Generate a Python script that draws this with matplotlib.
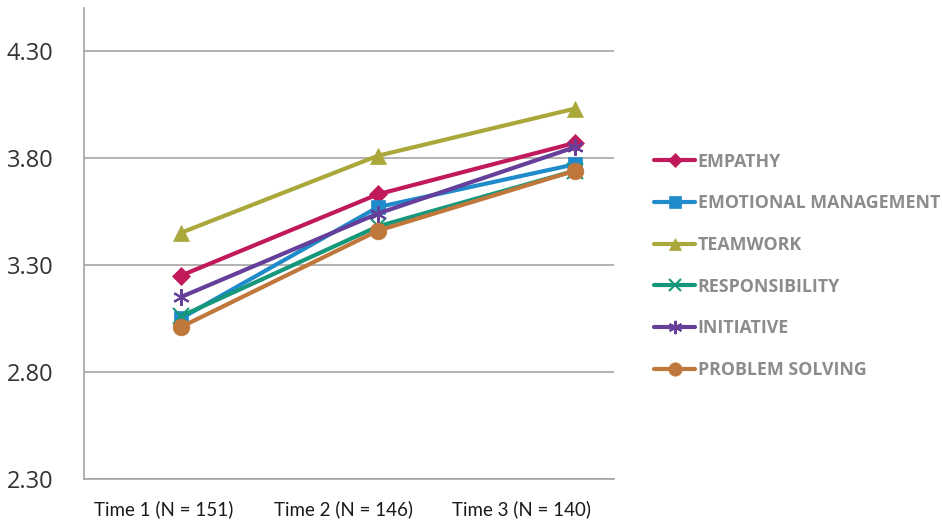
import matplotlib.pyplot as plt
import numpy as np

times = ['Time 1 (N = 151)', 'Time 2 (N = 146)', 'Time 3 (N = 140)']

empathy = [3.25, 3.63, 3.87]
emotional = [3.05, 3.57, 3.77]
teamwork = [3.45, 3.81, 4.03]
responsibility = [3.06, 3.48, 3.74]
initiative = [3.15, 3.54, 3.85]
problem_solving = [3.01, 3.46, 3.74]

names = ['EMPATHY', 'EMOTIONAL MANAGEMENT', 'TEAMWORK',
         'RESPONSIBILITY', 'INITIATIVE', 'PROBLEM SOLVING']
series = [empathy, emotional, teamwork, responsibility, initiative, problem_solving]
colors = ['#c01a5b', '#1f8bca', '#aaa83a', '#14977a', '#653f9a', '#c0773b']
markers = ['D', 's', '^', 'x', (6, 2, 0), 'o']
msizes = [9, 10, 11, 11, 12, 12]

fig = plt.figure(figsize=(9.42, 5.20), dpi=100)
ax = fig.add_axes([84 / 942, 1 - 479 / 520, 530 / 942, 471 / 520])

x = np.arange(len(times))
for vals, name, c, m, ms in zip(series, names, colors, markers, msizes):
    ax.plot(x, vals, color=c, linewidth=3, marker=m, markersize=ms,
            markeredgewidth=1.5 if m in ('x', (6, 2, 0)) else 0.5,
            markeredgecolor=c, label=name, solid_capstyle='round')

ax.set_ylim(2.3, 4.5)
ax.set_xlim(-0.492, 2.198)
ax.set_yticks([2.3, 2.8, 3.3, 3.8, 4.3])
ax.set_yticklabels(['2.30', '2.80', '3.30', '3.80', '4.30'],
                   fontfamily='Open Sans', fontsize=17, color='#333333')
# category labels sit a little left of the data points in the original
ax.set_xticks([-0.086, 0.827, 1.731])
ax.set_xticklabels(times, fontfamily='Lato', fontsize=13.5, color='#1a1a1a')
ax.tick_params(axis='y', length=0, pad=22)
ax.tick_params(axis='x', length=0, pad=15)
ax.yaxis.grid(True, color='#a6a6a6', linewidth=1.2)
ax.set_axisbelow(True)
for s in ['top', 'right']:
    ax.spines[s].set_visible(False)
for s in ['left', 'bottom']:
    ax.spines[s].set_color('#a6a6a6')
    ax.spines[s].set_linewidth(1.2)

leg = fig.legend(loc='center left', bbox_to_anchor=(0.685, 0.489), frameon=False,
                 prop={'family': 'Open Sans', 'weight': 'bold', 'size': 12.8},
                 handlelength=2.3, handletextpad=0.15, labelspacing=1.33,
                 borderpad=0, markerscale=0.8)
for t in leg.get_texts():
    t.set_color('#8c8c8c')

fig.savefig('out.png', dpi=100)
